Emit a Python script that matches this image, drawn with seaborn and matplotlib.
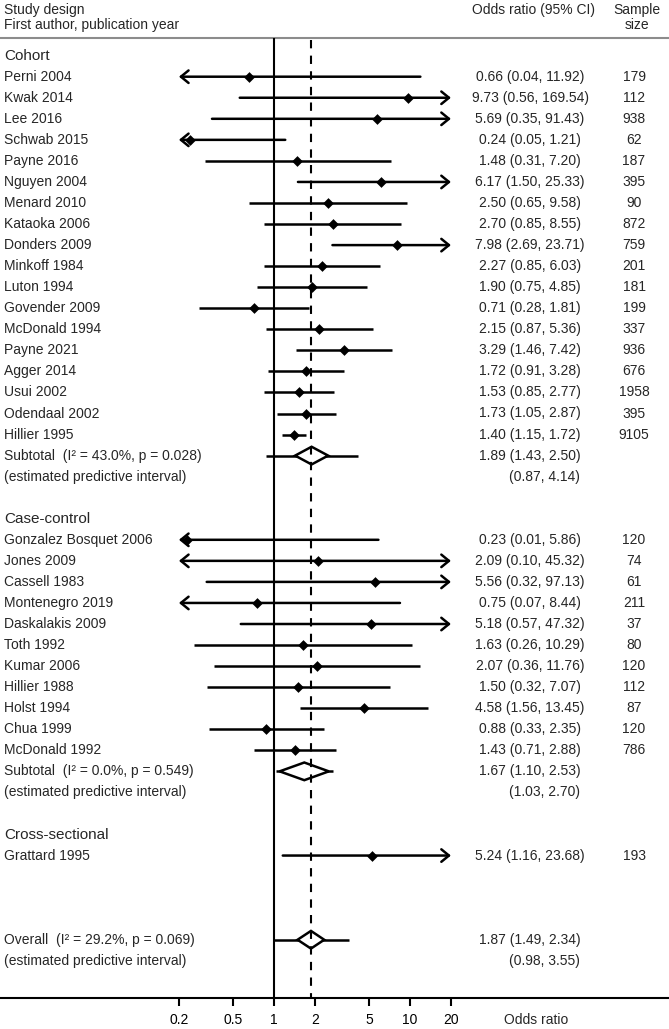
import numpy as np
import pandas as pd
import matplotlib.pyplot as plt
import seaborn as sns

# study level data
cohort_names = ['Perni 2004', 'Kwak 2014', 'Lee 2016', 'Schwab 2015', 'Payne 2016', 'Nguyen 2004',
                'Menard 2010', 'Kataoka 2006', 'Donders 2009', 'Minkoff 1984', 'Luton 1994',
                'Govender 2009', 'McDonald 1994', 'Payne 2021', 'Agger 2014', 'Usui 2002',
                'Odendaal 2002', 'Hillier 1995']
cohort_or = [0.66, 9.73, 5.69, 0.24, 1.48, 6.17, 2.50, 2.70, 7.98, 2.27, 1.90, 0.71, 2.15, 3.29, 1.72, 1.53, 1.73, 1.40]
cohort_lo = [0.04, 0.56, 0.35, 0.05, 0.31, 1.50, 0.65, 0.85, 2.69, 0.85, 0.75, 0.28, 0.87, 1.46, 0.91, 0.85, 1.05, 1.15]
cohort_hi = [11.92, 169.54, 91.43, 1.21, 7.20, 25.33, 9.58, 8.55, 23.71, 6.03, 4.85, 1.81, 5.36, 7.42, 3.28, 2.77, 2.87, 1.72]
cohort_n = [179, 112, 938, 62, 187, 395, 90, 872, 759, 201, 181, 199, 337, 936, 676, 1958, 395, 9105]

cc_names = ['Gonzalez Bosquet 2006', 'Jones 2009', 'Cassell 1983', 'Montenegro 2019', 'Daskalakis 2009',
            'Toth 1992', 'Kumar 2006', 'Hillier 1988', 'Holst 1994', 'Chua 1999', 'McDonald 1992']
cc_or = [0.23, 2.09, 5.56, 0.75, 5.18, 1.63, 2.07, 1.50, 4.58, 0.88, 1.43]
cc_lo = [0.01, 0.10, 0.32, 0.07, 0.57, 0.26, 0.36, 0.32, 1.56, 0.33, 0.71]
cc_hi = [5.86, 45.32, 97.13, 8.44, 47.32, 10.29, 11.76, 7.07, 13.45, 2.35, 2.88]
cc_n = [120, 74, 61, 211, 37, 80, 120, 112, 87, 120, 786]

cs_names = ['Grattard 1995']
cs_or = [5.24]
cs_lo = [1.16]
cs_hi = [23.68]
cs_n = [193]

# pooled estimates: (est, lo, hi), predictive interval, heterogeneity text
pooled_labels = ['Subtotal  (I\u00b2 = 43.0%, p = 0.028)', 'Subtotal  (I\u00b2 = 0.0%, p = 0.549)',
                 'Overall  (I\u00b2 = 29.2%, p = 0.069)']
pooled_est = [1.89, 1.67, 1.87]
pooled_lo = [1.43, 1.10, 1.49]
pooled_hi = [2.50, 2.53, 2.34]
pred_lo = [0.87, 1.03, 0.98]
pred_hi = [4.14, 2.70, 3.55]

tick_vals = [0.2, 0.5, 1, 2, 5, 10, 20]
tick_labels = ['0.2', '0.5', '1', '2', '5', '10', '20']

# ---- layout ----
W, H = 669, 1029
X_ONE, PX_DEC = 274, 136          # pixel of OR=1 and pixels per decade
XMIN, XMAX = 0.2, 20              # arrows beyond these
Y_AX = 998                        # pixel of bottom axis line
ROW1, ROWH = 76.7, 21.05          # pixel of row 1, row height

def pix_to_row(py):
    return 1 + (py - ROW1) / ROWH

sns.set_theme(style='white')
plt.rcParams['font.family'] = ['Liberation Sans', 'DejaVu Sans']

fig = plt.figure(figsize=(W / 100, H / 100), dpi=100)
ax = fig.add_axes([0, (H - Y_AX) / H, 1, Y_AX / H])
ax.set_xscale('log')
ax.set_xlim(10 ** (-X_ONE / PX_DEC), 10 ** ((W - X_ONE) / PX_DEC))
ax.set_ylim(pix_to_row(Y_AX), pix_to_row(0))

def fx(px):
    return px / W

trans = ax.get_yaxis_transform()  # x axes fraction, y data
TXT = 10
LEFT = fx(4)
EST_X = fx(530)
N_X = fx(634)

# build table of rows
groups = [('Cohort', cohort_names, cohort_or, cohort_lo, cohort_hi, cohort_n, 0),
          ('Case-control', cc_names, cc_or, cc_lo, cc_hi, cc_n, 22),
          ('Cross-sectional', cs_names, cs_or, cs_lo, cs_hi, cs_n, 37)]
rows = []
for g, names, ors, los, his, ns, start in groups:
    for i, nm in enumerate(names):
        rows.append(dict(group=g, name=nm, est=ors[i], lo=los[i], hi=his[i], n=ns[i], row=start + 1 + i))
df = pd.DataFrame(rows)
pooled_rows = [19, 34, 42]

# top grey separator and vertical reference lines
top_row = pix_to_row(38)
ax.axhline(top_row, color='#8c8c8c', lw=1.5)
ax.vlines(1, top_row, pix_to_row(Y_AX), color='black', lw=1.5, zorder=2)

# study CIs with arrows where clipped
for _, r in df.iterrows():
    lo_c, hi_c = max(r.lo, XMIN), min(r.hi, XMAX)
    if r.lo < XMIN and r.hi > XMAX:
        style = '<->'
    elif r.lo < XMIN:
        style = '<-'
    elif r.hi > XMAX:
        style = '->'
    else:
        style = '-'
    if style == '-':
        ax.plot([lo_c, hi_c], [r.row, r.row], color='black', lw=1.8, solid_capstyle='butt', zorder=3)
    else:
        ax.annotate('', xy=(hi_c, r.row), xytext=(lo_c, r.row),
                    arrowprops=dict(arrowstyle=style + ', head_length=0.55, head_width=0.45',
                                    lw=1.8, color='black', shrinkA=0, shrinkB=0,
                                    mutation_scale=10), zorder=3)
    ax.text(EST_X, r.row, f'{r.est:.2f} ({r.lo:.2f}, {r.hi:.2f})', transform=trans,
            ha='center', va='center', fontsize=TXT)
    ax.text(N_X, r.row, str(r.n), transform=trans, ha='center', va='center', fontsize=TXT)
    ax.text(LEFT, r.row, r['name'], transform=trans, ha='left', va='center', fontsize=TXT)

sns.scatterplot(data=df, x='est', y='row', marker='D', s=30, color='black',
                edgecolor='black', linewidth=0, ax=ax, zorder=4, legend=False)

# pooled diamonds with predictive intervals
DH = 0.42
for k, prow in enumerate(pooled_rows):
    ax.plot([pred_lo[k], pred_hi[k]], [prow, prow], color='black', lw=1.8, zorder=3,
            solid_capstyle='butt')
    ax.fill([pooled_lo[k], pooled_est[k], pooled_hi[k], pooled_est[k]],
            [prow, prow - DH, prow, prow + DH], facecolor='white', edgecolor='black',
            lw=1.8, zorder=4, joinstyle='miter')
    ax.text(LEFT, prow, pooled_labels[k], transform=trans, ha='left', va='center', fontsize=TXT)
    ax.text(LEFT, prow + 1, '(estimated predictive interval)', transform=trans,
            ha='left', va='center', fontsize=TXT)
    ax.text(EST_X, prow, f'{pooled_est[k]:.2f} ({pooled_lo[k]:.2f}, {pooled_hi[k]:.2f})',
            transform=trans, ha='center', va='center', fontsize=TXT)
    ax.text(fx(580), prow + 1, f'({pred_lo[k]:.2f}, {pred_hi[k]:.2f})', transform=trans,
            ha='right', va='center', fontsize=TXT)

# dashed line at overall estimate, drawn over diamonds
ax.vlines(pooled_est[2], top_row + 0.1, pix_to_row(Y_AX), color='black', lw=1.5,
          linestyles=(0, (4, 3.5)), zorder=5)

# group headings
for g, *_rest, start in groups:
    ax.text(LEFT, start, g, transform=trans, ha='left', va='center', fontsize=11)

# column headers
ax.text(LEFT, pix_to_row(10), 'Study design', transform=trans, ha='left', va='center', fontsize=TXT)
ax.text(LEFT, pix_to_row(25), 'First author, publication year', transform=trans, ha='left',
        va='center', fontsize=TXT)
ax.text(fx(533), pix_to_row(10), 'Odds ratio (95% CI)', transform=trans, ha='center',
        va='center', fontsize=TXT)
ax.text(fx(637), pix_to_row(10), 'Sample', transform=trans, ha='center', va='center', fontsize=TXT)
ax.text(fx(637), pix_to_row(25), 'size', transform=trans, ha='center', va='center', fontsize=TXT)

# axis styling
sns.despine(ax=ax, left=True, top=True, right=True)
ax.spines['bottom'].set_color('black')
ax.spines['bottom'].set_linewidth(1.5)
ax.set_xticks(tick_vals)
ax.set_xticklabels(tick_labels, fontsize=TXT)
ax.xaxis.set_minor_locator(plt.NullLocator())
ax.tick_params(axis='x', which='major', bottom=True, length=6, width=1.5, color='black',
               direction='out', pad=5, labelcolor='black')
ax.set_yticks([])
ax.set_xlabel('')
ax.set_ylabel('')
ax.grid(False)
# label in line with the tick labels
ax.annotate('Odds ratio', xy=(fx(536), 0), xycoords='axes fraction', xytext=(0, -11),
            textcoords='offset points', ha='center', va='top', fontsize=TXT)

fig.savefig('out.png', dpi=100)
